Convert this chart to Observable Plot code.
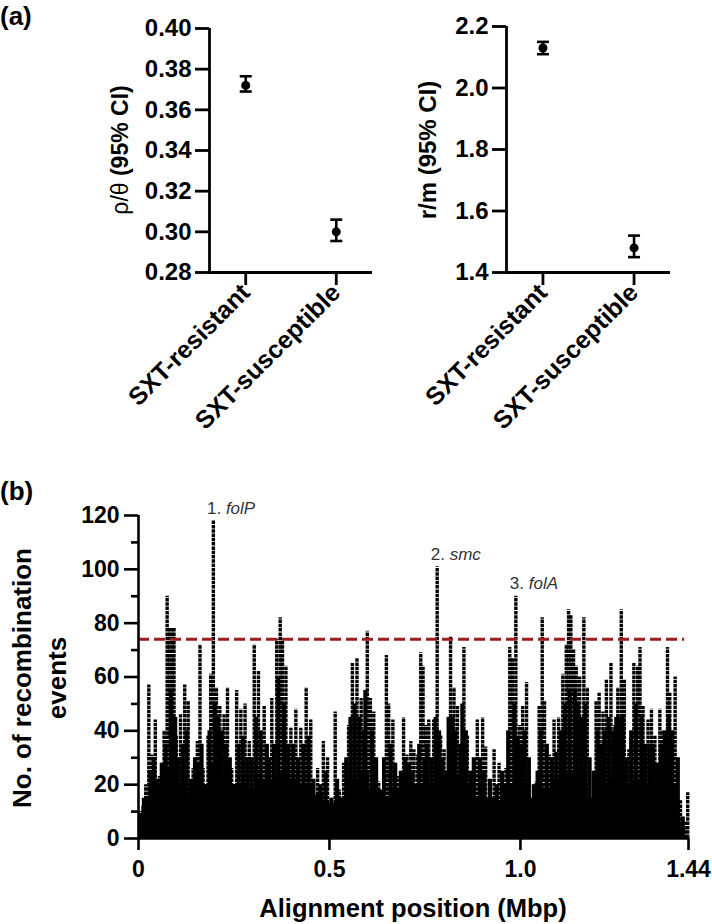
<!DOCTYPE html>
<html><head><meta charset="utf-8">
<script src="https://cdn.jsdelivr.net/npm/d3@7"></script>
<script src="https://cdn.jsdelivr.net/npm/@observablehq/plot@0.6"></script>
<style>
body{margin:0;background:#fff;}
#wrap{position:relative;width:712px;height:924px;overflow:hidden;font-family:"Liberation Sans",Arial,Helvetica,sans-serif;color:#000;}
.abs{position:absolute;}
.panel{position:absolute;font-weight:bold;font-size:26px;line-height:1;}
.rot{position:absolute;transform:translate(-50%,-50%) rotate(-90deg);white-space:nowrap;font-size:23px;font-weight:bold;text-align:center;}
.hor{position:absolute;transform:translate(-50%,-50%);white-space:nowrap;font-size:25.5px;font-weight:bold;}
</style></head><body><div id="wrap"></div>
<script>
// ---------- Panel (a) data ----------
const groups = ["SXT-resistant", "SXT-susceptible"];
const rhoTheta = [0.372, 0.300];
const rhoLo = [0.369, 0.2955];
const rhoHi = [0.3765, 0.306];
const rhoTicks = [0.28, 0.30, 0.32, 0.34, 0.36, 0.38, 0.40];
const rm = [2.13, 1.48];
const rmLo = [2.11, 1.45];
const rmHi = [2.15, 1.52];
const rmTicks = [1.4, 1.6, 1.8, 2.0, 2.2];

// ---------- Panel (b) data ----------
const colPos = [0.007,0.019,0.027,0.035,0.044,0.055,0.067,0.075,0.081,0.088,0.093,0.099,0.110,0.121,0.130,0.143,0.154,0.161,0.169,0.182,0.189,0.196,0.204,0.213,0.224,0.233,0.244,0.257,0.268,0.279,0.290,0.303,0.314,0.329,0.349,0.362,0.371,0.377,0.386,0.399,0.412,0.425,0.439,0.451,0.469,0.484,0.495,0.515,0.526,0.537,0.550,0.560,0.572,0.583,0.599,0.607,0.616,0.629,0.649,0.655,0.666,0.679,0.694,0.703,0.713,0.721,0.730,0.739,0.745,0.752,0.760,0.773,0.782,0.791,0.800,0.817,0.826,0.835,0.852,0.861,0.887,0.901,0.909,0.931,0.944,0.962,0.972,0.979,0.988,0.997,1.006,1.016,1.028,1.041,1.049,1.057,1.063,1.076,1.088,1.100,1.111,1.120,1.126,1.132,1.139,1.146,1.155,1.166,1.175,1.187,1.198,1.206,1.216,1.225,1.237,1.247,1.255,1.264,1.272,1.284,1.297,1.307,1.313,1.321,1.334,1.343,1.352,1.365,1.372,1.385,1.391,1.405,1.419,1.431,1.438];
const colH = [10,20,57,31,44,23,40,90,78,78,78,38,46,57,51,26,36,72,26,38,61,118,56,49,46,56,26,55,48,50,36,72,62,49,52,74,82,74,64,41,48,41,56,44,26,36,30,47,18,28,42,65,67,52,77,52,47,21,68,50,44,23,45,31,36,33,31,69,64,42,44,44,101,38,33,75,56,49,71,38,44,45,34,33,28,26,71,67,90,42,49,58,14,21,49,82,51,31,44,45,61,72,85,83,70,64,60,82,56,14,51,54,47,59,65,42,56,85,59,33,65,64,71,49,44,48,38,48,40,71,54,60,14,6,17];
const fillPos = [0.013,0.031,0.040,0.050,0.061,0.071,0.085,0.096,0.105,0.116,0.126,0.137,0.148,0.158,0.165,0.175,0.186,0.200,0.208,0.218,0.229,0.239,0.250,0.262,0.274,0.285,0.296,0.308,0.320,0.336,0.342,0.355,0.366,0.381,0.392,0.405,0.418,0.432,0.445,0.458,0.476,0.490,0.505,0.520,0.531,0.544,0.555,0.566,0.578,0.590,0.594,0.611,0.622,0.636,0.643,0.660,0.672,0.687,0.698,0.708,0.717,0.726,0.735,0.749,0.756,0.767,0.778,0.787,0.796,0.808,0.812,0.822,0.830,0.843,0.848,0.857,0.869,0.878,0.894,0.905,0.920,0.938,0.952,0.957,0.968,0.984,0.993,1.002,1.011,1.022,1.035,1.045,1.053,1.069,1.082,1.094,1.106,1.116,1.129,1.143,1.150,1.160,1.170,1.181,1.192,1.202,1.211,1.220,1.231,1.242,1.251,1.260,1.268,1.278,1.290,1.302,1.317,1.327,1.338,1.347,1.358,1.368,1.378,1.388,1.397,1.412,1.425];
const fillH = [12,25,30,22,28,35,55,45,30,35,40,22,30,28,35,20,40,50,45,40,35,30,20,35,38,30,30,45,40,35,30,35,60,50,35,35,30,35,38,22,20,25,15,22,15,30,45,50,45,40,55,40,30,18,30,35,28,25,30,28,25,20,35,30,35,30,45,40,30,25,45,45,40,35,50,40,25,30,30,25,22,20,25,20,40,50,38,35,40,30,20,25,40,35,30,32,40,50,55,55,50,45,50,30,25,40,35,40,45,40,45,45,45,30,40,50,45,35,35,35,28,35,40,45,40,30,8];
const floorPos = [0,0.02,0.05,0.08,0.11,0.14,0.17,0.20,0.23,0.26,0.29,0.32,0.35,0.38,0.41,0.44,0.47,0.50,0.53,0.56,0.59,0.62,0.65,0.68,0.71,0.74,0.77,0.80,0.83,0.86,0.89,0.92,0.95,0.98,1.01,1.04,1.07,1.10,1.13,1.16,1.19,1.22,1.25,1.28,1.31,1.34,1.37,1.40,1.43];
const floorH = [9,15,20,26,20,15,18,28,22,20,18,22,21,25,22,20,16,13,15,22,25,18,15,18,18,20,20,23,23,20,15,15,14,20,20,15,18,22,25,22,15,20,22,20,22,20,18,20,6];
const recTicks = [0,20,40,60,80,100,120];
const recMinor = [10,30,50,70,90,110];
const posTicks = [0,0.5,1.0,1.44];
const posTickLabels = ["0","0.5","1.0","1.44"];
const threshold = 74;
const annPos = [0.195,0.781,0.988];
const annH = [118,101,90];
const annNum = ["1.","2.","3."];
const annGene = ["folP","smc","folA"];

const FONT = '"Liberation Sans", Arial, Helvetica, sans-serif';
const wrap = document.getElementById("wrap");
function place(node, left, top){ const d = document.createElement("div"); d.className="abs"; d.style.left=left+"px"; d.style.top=top+"px"; d.appendChild(node); wrap.appendChild(d); }
function html(cls, left, top, inner, extra){ const d=document.createElement("div"); d.className=cls; d.style.left=left+"px"; d.style.top=top+"px"; if (extra) d.style.cssText += extra; d.innerHTML=inner; wrap.appendChild(d); }

const capSym = {draw(ctx, size){ const w = Math.sqrt(size/Math.PI); ctx.moveTo(-w,0); ctx.lineTo(w,0); }};

function dotPlot(vals, lo, hi, yTicks, fmt, o){
  const rows = groups.map((g,i)=>({i, v: vals[i], lo: lo[i], hi: hi[i]}));
  const y0 = yTicks[0], y1 = yTicks[yTicks.length-1];
  return Plot.plot({
    width: o.width, height: 380, marginLeft: o.ml, marginRight: o.mr, marginTop: o.mt, marginBottom: 380 - 272,
    style: {fontFamily: FONT, background: "transparent", overflow: "visible", color: "black"},
    x: {domain: [-0.4, 1.4]},
    y: {domain: [y0, y1]},
    marks: [
      Plot.ruleX([-0.4], {strokeWidth: 2.8}),
      Plot.ruleY([y0], {strokeWidth: 2.8}),
      Plot.axisY({ticks: yTicks, tickFormat: fmt, tickSize: 14, tickPadding: 4, strokeWidth: 2.8, fontSize: 24, fontWeight: "bold", label: null}),
      Plot.axisX({ticks: [0,1], tickFormat: i => groups[i], tickSize: 13, tickPadding: 3, tickRotate: -45, strokeWidth: 2.8, fontSize: 25, fontWeight: "bold", label: null}),
      Plot.ruleX(rows, {x: "i", y1: "lo", y2: "hi", strokeWidth: 2.6}),
      Plot.dot(rows, {x: "i", y: "lo", symbol: capSym, r: 6, stroke: "black", fill: "none", strokeWidth: 2.6}),
      Plot.dot(rows, {x: "i", y: "hi", symbol: capSym, r: 6, stroke: "black", fill: "none", strokeWidth: 2.6}),
      Plot.dot(rows, {x: "i", y: "v", r: 4.5, fill: "black"})
    ]
  });
}

place(dotPlot(rhoTheta, rhoLo, rhoHi, rhoTicks, d => d.toFixed(2), {width: 380, ml: 209, mr: 8, mt: 28}), 0, 0);
place(dotPlot(rm, rmLo, rmHi, rmTicks, d => d.toFixed(1), {width: 332, ml: 126, mr: 42, mt: 26}), 380, 0);

// Panel (b)
const cols = colPos.map((p,i)=>({p, h: colH[i]}));
const fills = fillPos.map((p,i)=>({p, h: fillH[i]}));
const floor = floorPos.map((p,i)=>({p, h: floorH[i]}));
const ann = annPos.map((p,i)=>({p, h: annH[i], num: annNum[i], gene: annGene[i]}));

const pb = Plot.plot({
  width: 712, height: 444, marginLeft: 138, marginRight: 24, marginTop: 35, marginBottom: 86,
  style: {fontFamily: FONT, background: "transparent", overflow: "visible", color: "black"},
  x: {domain: [0, 1.44]},
  y: {domain: [0, 120]},
  marks: [
    Plot.areaY(floor, {x: "p", y: "h", curve: "step", fill: "black"}),
    Plot.ruleX(fills, {x: "p", y1: 0, y2: "h", strokeWidth: 4.2, stroke: "black"}),
    Plot.ruleX(cols, {x: "p", y1: 0, y2: "h", strokeWidth: 3.4, stroke: "black", strokeDasharray: "3.5,0.8"}),
    Plot.ruleY([threshold], {x1: 0, x2: 1.43, stroke: "#9e1b1e", strokeWidth: 3, strokeDasharray: "11,5"}),
    Plot.ruleX([0], {strokeWidth: 2.6}),
    Plot.ruleY([0], {strokeWidth: 2.6}),
    Plot.axisY({ticks: recTicks, tickSize: 14, tickPadding: 5, strokeWidth: 2.6, fontSize: 23, fontWeight: "bold", label: null}),
    Plot.axisY({ticks: recMinor, tickSize: 7, tickFormat: () => "", strokeWidth: 2.6, label: null}),
    Plot.axisX({ticks: posTicks, tickFormat: d => posTickLabels[posTicks.indexOf(d)], tickSize: 12, tickPadding: 10, strokeWidth: 2.6, fontSize: 23, fontWeight: "bold", label: null}),
    Plot.text(ann, {x: "p", y: "h", text: d => d.num + " " + d.gene, textAnchor: "start", lineAnchor: "bottom", dx: -6, dy: -7, fontSize: 17, fill: "#333"})
  ]
});
d3.select(pb).selectAll("g[aria-label='text'] text").each(function(_, i){
  const t = d3.select(this);
  t.text(null);
  t.append("tspan").text(annNum[i] + " ");
  t.append("tspan").attr("font-style", "italic").text(annGene[i]);
});
place(pb, 0, 480);

// Labels
html("panel", 0, 3, "(a)");
html("panel", 0, 478, "(b)");
html("rot", 120, 150, '<span style="font-weight:normal">ρ/θ</span> (95% CI)');
html("rot", 428, 150, "r/m (95% CI)", "font-size:24px;");
html("rot", 40, 678, '<div style="line-height:35px">No. of recombination<br>events</div>', "font-size:26px;");
html("hor", 413, 908, "Alignment position (Mbp)");
</script></body></html>
